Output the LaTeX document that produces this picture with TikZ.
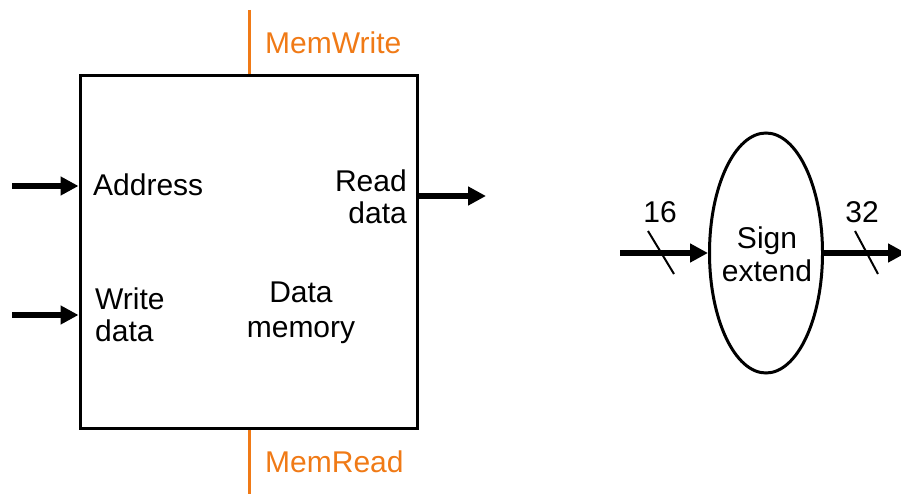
\documentclass[tikz,border=0pt]{standalone}
\usepackage{fontspec}
\setmainfont{Liberation Sans}
\usetikzlibrary{positioning,shapes.geometric,arrows.meta}
\definecolor{ctrl}{RGB}{240,122,22}

\begin{document}
\begin{tikzpicture}[x=1pt, y=-1pt,
  lbl/.style={font=\fontsize{30}{32}\selectfont, inner sep=0pt},
  bus/.style={line width=5.5pt, -{Triangle[length=18pt,width=18pt]}},
  ctl/.style={draw=ctrl, line width=3pt}]
\useasboundingbox (0,0) rectangle (901,494);
% data memory
\node[draw, line width=3pt, minimum width=337pt, minimum height=352pt, inner sep=0pt] (mem) at (248.5,252) {};
\path (93,185) node[lbl, anchor=west] (addr) {Address};
\path (95,315) node[lbl, anchor=west, align=left] (wdata) {Write\\data};
\path (407,197) node[lbl, anchor=east, align=right] (rdata) {Read\\data};
\path (301,313) node[lbl, align=center, font=\fontsize{30}{35}\selectfont] (dmem) {Data\\memory};
\coordinate (addrin) at (12,186);
\coordinate (wdin) at (12,315);
\coordinate (rdout) at (486,196);
\draw[bus] (addrin) -- (addrin -| mem.west);
\draw[bus] (wdin) -- (wdin -| mem.west);
\draw[bus] (rdout -| mem.east) -- (rdout);
% control lines
\coordinate (wtop) at (249,10);
\coordinate (rbot) at (249,494);
\draw[ctl] (wtop) -- (wtop |- mem.north);
\draw[ctl] (rbot) -- (rbot |- mem.south);
\path (265,43) node[lbl, anchor=west, text=ctrl] (mw) {MemWrite};
\path (265,462) node[lbl, anchor=west, text=ctrl] (mr) {MemRead};
% sign extend
\node[ellipse, draw, line width=3pt, minimum width=113pt, minimum height=240pt, inner sep=0pt] (sext) at (766,253) {};
\path (767,254) node[lbl, align=center, font=\fontsize{30}{33}\selectfont] (sxt) {Sign\\extend};
\coordinate (sin) at (620,253);
\coordinate (sout) at (906,253);
\draw[bus] (sin) -- (sext.west);
\draw[bus] (sext.east) -- (sout);
\draw[line width=2pt] (648,231) -- (674,274);
\draw[line width=2pt] (855,231) -- (878,274);
\path (660,212) node[lbl] (w16) {16};
\path (862,212) node[lbl] (w32) {32};
\end{tikzpicture}
\end{document}
